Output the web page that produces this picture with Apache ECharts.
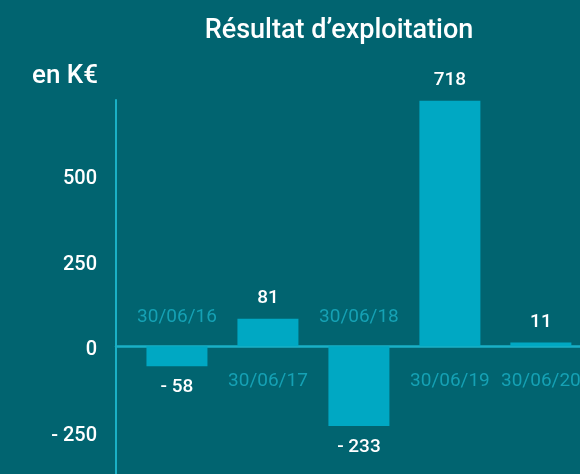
<!DOCTYPE html>
<html>
<head>
<meta charset="utf-8">
<script src="https://cdn.jsdelivr.net/npm/echarts@6/dist/echarts.min.js"></script>
<style>html,body{margin:0;padding:0;background:#016470;}#c{width:580px;height:474px;}</style>
</head>
<body>
<div id="c"></div>
<script>
const categories = ['30/06/16', '30/06/17', '30/06/18', '30/06/19', '30/06/20'];
const values = [-58, 81, -233, 718, 11];
const yTickValues = [-250, 0, 250, 500];
const titleText = 'Résultat d\u2019exploitation';
const unitText = 'en K€';

const BG = '#016470';
const BAR = '#00a8c3';
const CAT = '#1ab0c6';
const FONT = 'Roboto';
const fmt = v => v < 0 ? '- ' + Math.abs(v) : String(v);

const chart = echarts.init(document.getElementById('c'), null, {renderer: 'canvas'});
chart.setOption({
  backgroundColor: BG,
  animation: false,
  title: [
    {text: titleText, left: 334, textAlign: 'center', top: 13,
     textStyle: {color: '#fff', fontSize: 27, fontWeight: 500, fontFamily: FONT}},
    {text: unitText, left: 27, top: 58,
     textStyle: {color: '#fff', fontSize: 26, fontWeight: 500, fontFamily: FONT}}
  ],
  grid: {left: 116, right: 0, top: 100, bottom: 0, containLabel: false},
  xAxis: {
    type: 'value', min: -0.67, max: 4.43,
    axisLine: {show: true, onZero: true, lineStyle: {color: CAT, width: 2.5}},
    axisTick: {show: false}, axisLabel: {show: false}, splitLine: {show: false}
  },
  yAxis: {
    type: 'value', min: -373, max: 720,
    axisLine: {show: true, onZero: false, lineStyle: {color: CAT, width: 2}},
    axisTick: {show: false}, splitLine: {show: false},
    axisLabel: {customValues: yTickValues, formatter: fmt, color: '#fff',
      fontSize: 20, fontWeight: 500, fontFamily: FONT, margin: 19,
      verticalAlign: 'top', lineHeight: 8}
  },
  series: [
    {
      type: 'bar', barWidth: 61, silent: true,
      itemStyle: {color: BAR},
      data: values.map((v, i) => ({
        value: [i, v],
        label: {show: true, position: v >= 0 ? 'top' : 'bottom', distance: v >= 0 ? 11 : 12,
          formatter: () => fmt(v), color: '#fff', fontSize: 19, fontWeight: 500, fontFamily: FONT}
      }))
    },
    {
      type: 'scatter', symbolSize: 1, silent: true, itemStyle: {color: 'rgba(0,0,0,0)'},
      data: categories.map((c, i) => ({
        value: [i, 0],
        label: {show: true, position: values[i] < 0 ? 'top' : 'bottom', distance: values[i] < 0 ? 19 : 25,
          formatter: () => c, color: CAT, fontSize: 19, fontFamily: FONT}
      }))
    }
  ]
});
</script>
</body>
</html>
